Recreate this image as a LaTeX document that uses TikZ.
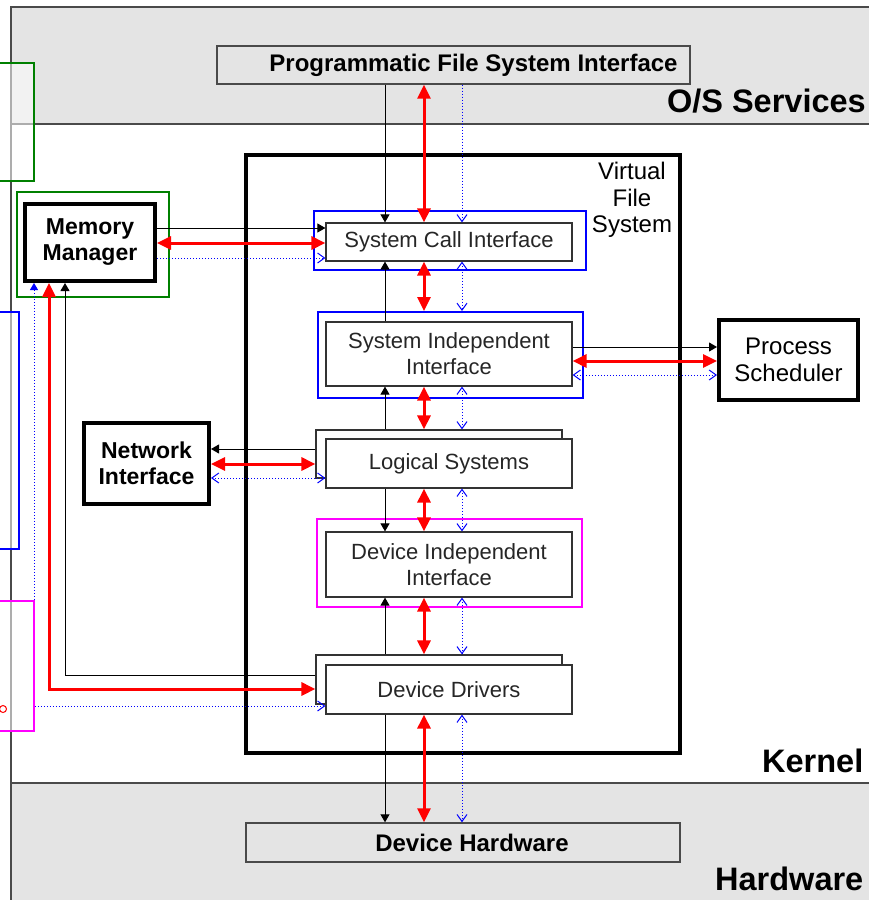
\documentclass[tikz,border=0pt]{standalone}
\usepackage{fontspec}
\setmainfont{Liberation Sans}
\usetikzlibrary{arrows.meta}
\definecolor{bandgray}{HTML}{E4E4E4}
\definecolor{linegray}{HTML}{4A4A4A}
\definecolor{linkred}{HTML}{FF0000}
\definecolor{linkblue}{HTML}{0000FF}
\definecolor{boxgreen}{HTML}{008000}
\definecolor{boxmagenta}{HTML}{FF00FF}
\tikzset{
  blktip/.tip={Triangle[length=8pt,width=9pt]},
  redtip/.tip={Triangle[length=14pt,width=13pt]},
  bluetip/.tip={Straight Barb[length=7pt,width=10pt]},
  bluefill/.tip={Triangle[length=7pt,width=8pt]},
  frameline/.style={draw=linegray, line width=1.4pt},
  layerlabel/.style={font=\bfseries\fontsize{32.5}{35}\selectfont, inner sep=0pt, anchor=base west},
  layerbox/.style={draw=linegray, line width=1.4pt, fill=bandgray, inner sep=0pt,
    font=\bfseries\fontsize{24}{28}\selectfont},
  inner/.style={draw=black!80, line width=1.2pt, fill=white, inner sep=0pt, align=center,
    text=black!85, font=\fontsize{22}{26}\selectfont},
  shadowbox/.style={draw=black!80, line width=1.2pt, fill=white, inner sep=0pt},
  ringbox/.style={line width=2pt, inner sep=0pt},
  heavy/.style={draw=black, line width=4pt, fill=white, inner sep=0pt, align=center,
    font=\bfseries\fontsize{23}{26}\selectfont},
  heavyplain/.style={heavy, font=\fontsize{24}{27}\selectfont},
  blk/.style={draw=black, line width=1pt, arrows={-blktip}},
  redlink/.style={draw=linkred, line width=3pt, arrows={redtip-redtip}},
  bluelink/.style={draw=linkblue, line width=1pt, dash pattern=on 1pt off 2pt, arrows={-bluetip}},
  bluelinks/.style={bluelink, arrows={bluetip-bluetip}},
  partbox/.style={line width=2pt, fill=white, fill opacity=0.55, draw opacity=1},
}
\begin{document}
\begin{tikzpicture}[x=1pt,y=-1pt]
\useasboundingbox (0,0) rectangle (868,900);

% layer bands
\fill[bandgray] (11,7) rectangle (880,124);
\fill[bandgray] (11,783) rectangle (880,910);
\draw[frameline] (880,7) -- (11,7) -- (11,910);
\draw[frameline] (11,124) -- (880,124);
\draw[frameline] (11,783) -- (880,783);

\node[layerlabel, anchor=base east] (oslabel) at (866,112) {O/S Services};
\node[layerlabel] (kernellabel) at (762,772) {Kernel};
\node[layerlabel] (hwlabel) at (715,890) {Hardware};

% interface boxes in the outer layers
\node[layerbox, minimum width=473pt, minimum height=38pt] (pfsi) at (453.5,65)
  {\hspace*{40pt}Programmatic File System Interface};
\node[layerbox, minimum width=434pt, minimum height=39pt] (dh) at (463,842.5)
  {\hspace*{18pt}Device Hardware};

% virtual file system
\node[draw=black, line width=4pt, minimum width=434pt, minimum height=598pt, inner sep=0pt] (vfs) at (463,454) {};
\node[align=center, inner sep=0pt, font=\fontsize{24}{26.5}\selectfont] (vfslabel) at (632,200) {Virtual\\File\\System};

% coloured frames around the layers
\node[ringbox, draw=linkblue, minimum width=272pt, minimum height=59pt] (sciO) at (450,240.5) {};
\node[ringbox, draw=linkblue, minimum width=265pt, minimum height=86pt] (siiO) at (450.5,355) {};
\node[ringbox, draw=boxmagenta, minimum width=265pt, minimum height=88pt] (diiO) at (449.5,563) {};

% layers
\node[inner, minimum width=246pt, minimum height=38pt] (sci) at (449,242) {System Call Interface};
\node[inner, minimum width=246pt, minimum height=64pt] (sii) at (449,354) {System Independent\\Interface};
\node[shadowbox, minimum width=246pt, minimum height=48pt] (lsS) at (439,454) {};
\node[inner, minimum width=246pt, minimum height=49pt] (ls) at (449,463.5) {Logical Systems};
\node[inner, minimum width=246pt, minimum height=65pt] (dii) at (449,564.5) {Device Independent\\Interface};
\node[shadowbox, minimum width=246pt, minimum height=49pt] (ddS) at (439,679.5) {};
\node[inner, minimum width=246pt, minimum height=49pt] (dd) at (449,689.5) {Device Drivers};

% neighbouring subsystems
\node[ringbox, draw=boxgreen, minimum width=152pt, minimum height=105pt] (mmO) at (93,244.5) {};
\node[heavy, minimum width=130pt, minimum height=77pt] (mm) at (90,242.5) {Memory\\Manager};
\node[heavy, minimum width=125pt, minimum height=81pt] (ni) at (146.5,463.5) {Network\\Interface};
\node[heavyplain, minimum width=139pt, minimum height=80pt] (ps) at (788.5,360) {Process\\Scheduler};

% columns and rows used by the links
\coordinate (colK) at (385,0);
\coordinate (colR) at (424,0);
\coordinate (colB) at (462,0);
\coordinate (mmK) at (65,0);
\coordinate (mmR) at (49,0);
\coordinate (mmB) at (34,0);

% vertical links
\draw[blk] (pfsi.south -| colK) -- (sci.north -| colK);
\draw[redlink] (pfsi.south -| colR) -- (sci.north -| colR);
\draw[bluelink] (pfsi.south -| colB) -- (sci.north -| colB);

\draw[blk] (sii.north -| colK) -- (sci.south -| colK);
\draw[redlink] (sci.south -| colR) -- (siiO.north -| colR);
\draw[bluelinks] (sci.south -| colB) -- (siiO.north -| colB);

\draw[blk] (lsS.north -| colK) -- (sii.south -| colK);
\draw[redlink] (sii.south -| colR) -- (lsS.north -| colR);
\draw[bluelinks] (sii.south -| colB) -- (lsS.north -| colB);

\draw[blk] (ls.south -| colK) -- (dii.north -| colK);
\draw[redlink] (ls.south -| colR) -- (dii.north -| colR);
\draw[bluelinks] (ls.south -| colB) -- (dii.north -| colB);

\draw[blk] (ddS.north -| colK) -- (dii.south -| colK);
\draw[redlink] (dii.south -| colR) -- (ddS.north -| colR);
\draw[bluelinks] (dii.south -| colB) -- (ddS.north -| colB);

\draw[blk] (dd.south -| colK) -- (dh.north -| colK);
\draw[redlink] (dd.south -| colR) -- (dh.north -| colR);
\draw[bluelinks] (dd.south -| colB) -- (dh.north -| colB);

% memory manager <-> system call interface
\draw[blk] (mm.east |- 0,228) -- (sci.west |- 0,228);
\draw[redlink] (mm.east |- 0,243) -- (sci.west |- 0,243);
\draw[bluelink] (mm.east |- 0,258) -- (sci.west |- 0,258);

% system independent interface <-> process scheduler
\draw[blk] (sii.east |- 0,347) -- (ps.west |- 0,347);
\draw[redlink] (sii.east |- 0,361) -- (ps.west |- 0,361);
\draw[bluelinks] (sii.east |- 0,375) -- (ps.west |- 0,375);

% logical systems <-> network interface
\draw[blk] (lsS.west |- 0,449) -- (ni.east |- 0,449);
\draw[redlink] (ni.east |- 0,464) -- (lsS.west |- 0,464);
\draw[bluelinks] (ni.east |- 0,478) -- (ls.west |- 0,478);

% device drivers <-> memory manager
\draw[blk] (ddS.west |- 0,675) -| (mm.south -| mmK);
\draw[redlink] (mm.south -| mmR) |- (ddS.west |- 0,689);
\draw[bluelink, arrows={bluefill-bluetip}] (mm.south -| mmB) |- (dd.west |- 0,706);

% subsystems cut off at the left edge
\draw[partbox, draw=boxgreen] (-10,63) rectangle (34,181);
\draw[partbox, draw=linkblue] (-10,312) rectangle (19,549);
\draw[partbox, draw=boxmagenta] (-10,601) rectangle (34,731);
\draw[linkred, line width=1pt] (3,709) circle (3.5);
\end{tikzpicture}
\end{document}
